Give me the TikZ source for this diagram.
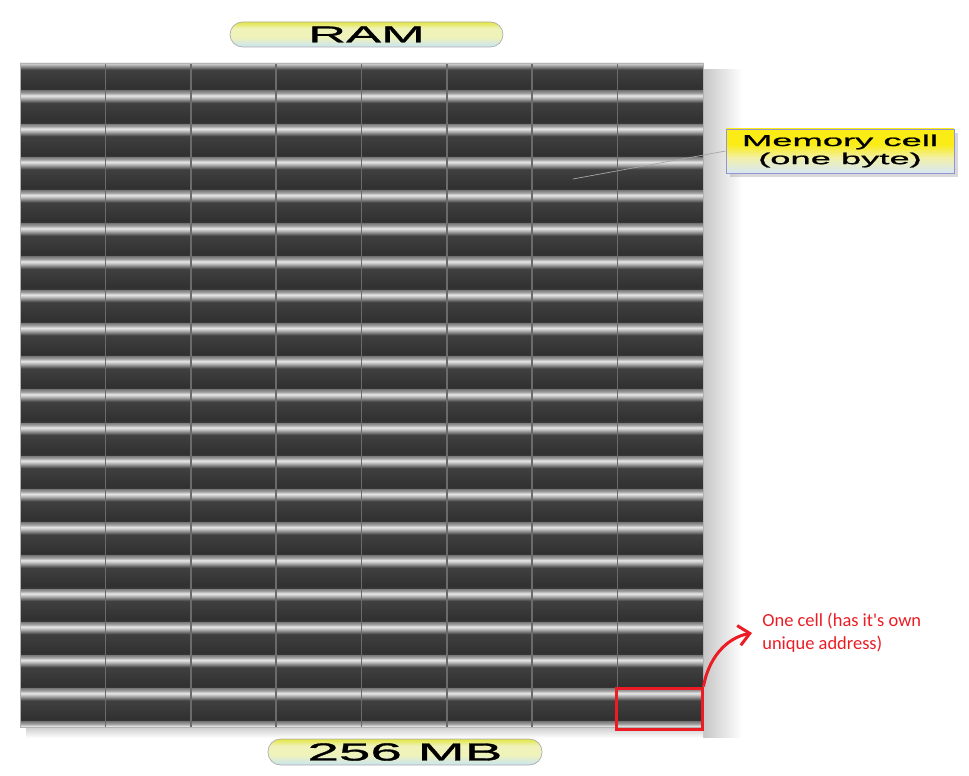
\documentclass[tikz,border=0pt]{standalone}
\usepackage{fontspec}
\newfontfamily\widefont[FakeStretch=2.3, FakeBold=1.2]{Liberation Sans}
\newfontfamily\notefont{Carlito}
\usetikzlibrary{%
    shapes,%
    arrows.meta,%
    shadows,%
    positioning,%
    calc%
}

% Colours of one memory cell (bottom to top)
\definecolor{cellLine}{gray}{0.24}
\definecolor{cellDark}{gray}{0.19}
\definecolor{cellMid}{gray}{0.25}
\definecolor{cellStripeLow}{gray}{0.44}
\definecolor{cellStripeMid}{gray}{0.72}
\definecolor{cellStripeHigh}{gray}{0.91}
\definecolor{cellUpper}{gray}{0.62}
\definecolor{cellTop}{gray}{0.50}
% Colours of the labels
\definecolor{tagYellow}{RGB}{250,236,20}
\definecolor{tagPale}{RGB}{242,240,170}
\definecolor{tagBlue}{RGB}{214,230,245}
\definecolor{pillYellow}{RGB}{226,229,68}
\definecolor{pillPale}{RGB}{240,243,185}
\definecolor{pillBlue}{RGB}{200,228,242}
\definecolor{noteRed}{RGB}{236,28,36}

\pgfdeclareverticalshading{cellshade}{100bp}{%
    color(0bp)=(cellLine); color(25bp)=(cellLine); color(29bp)=(cellDark);
    color(57bp)=(cellMid); color(60bp)=(cellStripeLow); color(64.5bp)=(cellStripeMid);
    color(68.2bp)=(cellStripeHigh); color(72bp)=(cellUpper);
    color(75bp)=(cellTop); color(100bp)=(cellTop)}
\pgfdeclareverticalshading{tagshade}{100bp}{%
    color(0bp)=(tagBlue); color(25bp)=(tagBlue); color(42bp)=(tagPale);
    color(58bp)=(tagYellow); color(75bp)=(tagYellow); color(100bp)=(tagYellow)}
\pgfdeclareverticalshading{pillshade}{100bp}{%
    color(0bp)=(pillBlue); color(25bp)=(pillBlue); color(45bp)=(pillPale);
    color(62bp)=(pillPale); color(75bp)=(pillYellow); color(100bp)=(pillYellow)}

\begin{document}
\begin{tikzpicture}[x=0.02cm, y=-0.02cm,
    cellbox/.style={shading=cellshade},
    sepline/.style={draw=black!58, line width=0.9pt},
    pill/.style={draw=gray!65, shading=pillshade, rounded corners=0.25cm,
        minimum width=5.46cm, minimum height=0.5cm, inner sep=0pt},
    tag/.style={draw=gray!60!blue!60, shading=tagshade, minimum width=4.56cm,
        minimum height=0.88cm, inner sep=0pt, align=center,
        drop shadow={shadow xshift=0.08cm, shadow yshift=-0.08cm, opacity=0.3},
        font=\widefont\fontsize{9}{10.3}\selectfont},
    redline/.style={draw=noteRed, line width=0.06cm}]
    \useasboundingbox (0,0) rectangle (969,776);

    % Define the corners of the memory block
    \coordinate (gridNW) at (20,63);
    \coordinate (gridSE) at (703,727);

    % Shadow of the memory block
    \shade[left color=gray!45, middle color=gray!8, right color=white] (703,70) rectangle (742,737);
    \shade[top color=gray!40, bottom color=white] (26,727) rectangle (703,738);

    % Draw the cells (8 bytes in each row, first and last row cut)
    \begin{scope}
        \clip (gridNW) rectangle (gridSE);
        \foreach \r in {0,...,20}
            \foreach \c in {0,...,7}
                \shade[cellbox] ({20+\c*85.375},{57.8+\r*33.2}) rectangle ({20+(\c+1)*85.375},{57.8+(\r+1)*33.2});
    \end{scope}
    \foreach \c in {1,...,7}
        \draw[sepline] ({20+\c*85.375},63) -- ({20+\c*85.375},727);
    \draw[gray!60] (gridNW) rectangle (gridSE);

    % Labels of the block
    \node[pill, font=\widefont\fontsize{13}{13}\selectfont] (ram) at (366.5,34.5) {RAM};
    \node[pill, minimum width=5.48cm, minimum height=0.52cm,
        font=\widefont\fontsize{14}{14}\selectfont] (size) at (405,752) {256 MB};

    % One memory cell
    \node[tag] (memtag) at (840,151) {Memory cell\\(one byte)};
    \coordinate (memtarget) at (573,179);
    \draw[gray!70, line width=0.4pt] (memtag.west) -- (memtarget);

    % The marked cell and its address
    \node[redline, minimum width=1.72cm, minimum height=0.82cm, inner sep=0pt] (onecell) at (659,708.5) {};
    \node[anchor=north west, inner sep=0pt, align=left, text=noteRed,
        font=\notefont\fontsize{10.5}{13}\selectfont] (note) at (762,613)
        {One cell (has it's own\\unique address)};
    \draw[redline, -{Straight Barb[length=0.22cm, width=0.4cm]}] (onecell.north east)
        .. controls (708,660) and (725,638) .. ($(note.west)+(-10,0)$);
\end{tikzpicture}
\end{document}
